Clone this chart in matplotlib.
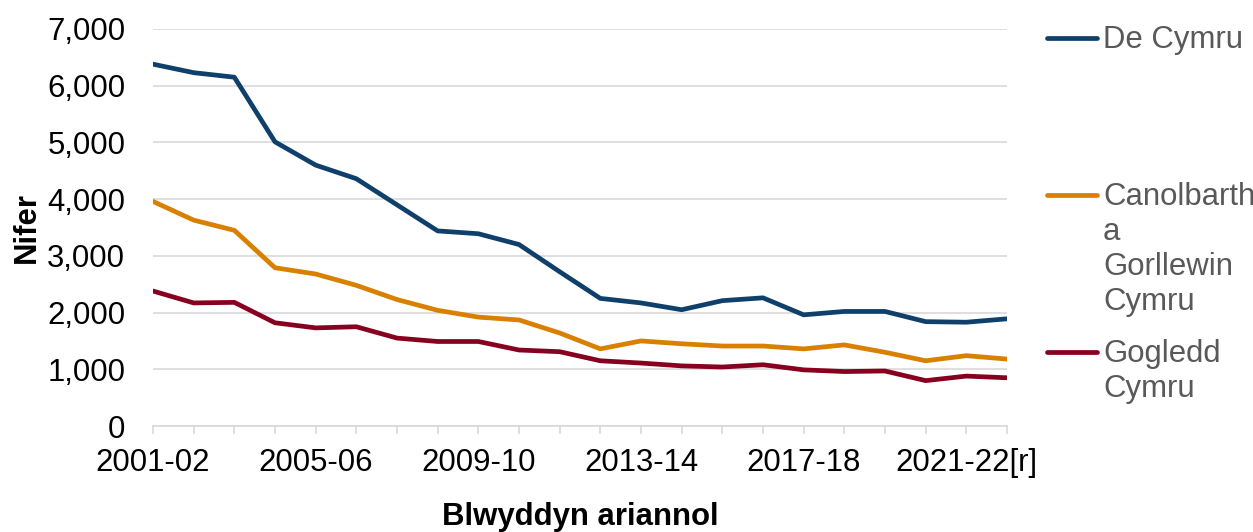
import numpy as np
import matplotlib
matplotlib.use("Agg")
from matplotlib import pyplot as plt
from matplotlib.lines import Line2D

plt.rcParams['font.family'] = ['Liberation Sans', 'DejaVu Sans']

years = ["2001-02", "2002-03", "2003-04", "2004-05", "2005-06", "2006-07",
         "2007-08", "2008-09", "2009-10", "2010-11", "2011-12", "2012-13",
         "2013-14", "2014-15", "2015-16", "2016-17", "2017-18", "2018-19",
         "2019-20", "2020-21", "2021-22[r]", "2022-23"]

de_cymru = [6380, 6230, 6150, 5010, 4600, 4360, 3900, 3440, 3390, 3200, 2720,
            2250, 2170, 2050, 2210, 2260, 1960, 2020, 2020, 1840, 1830, 1890]
canolbarth = [3960, 3630, 3450, 2790, 2680, 2480, 2230, 2040, 1920, 1870, 1640,
              1360, 1500, 1450, 1410, 1410, 1360, 1430, 1300, 1150, 1240, 1180]
gogledd = [2380, 2170, 2180, 1820, 1730, 1750, 1550, 1490, 1490, 1340, 1310,
           1150, 1110, 1060, 1040, 1080, 990, 960, 970, 800, 880, 850]

series = [("De Cymru", de_cymru, "#0f3f6b"),
          ("Canolbarth\na\nGorllewin\nCymru", canolbarth, "#d98000"),
          ("Gogledd\nCymru", gogledd, "#880020")]

fs = 22.4

fig = plt.figure(figsize=(12.53, 5.32), dpi=100)
ax = fig.add_axes([153/1253, 1-426/532, (1007-153)/1253, (426-29)/532])

x = np.arange(len(years))
for name, vals, col in series:
    ax.plot(x, vals, color=col, lw=3.4, solid_capstyle='round', zorder=3)

ax.set_xlim(0, len(years)-1)
ax.set_ylim(0, 7000)
ax.set_yticks(np.arange(0, 7001, 1000))
ax.set_yticklabels([f"{v:,}" for v in range(0, 7001, 1000)])
ax.set_xticks(x)
ax.set_xticklabels([y if i % 4 == 0 else "" for i, y in enumerate(years)])
ax.grid(axis='y', color='#d9d9d9', lw=1.2)
ax.set_axisbelow(True)
for s in ['top', 'right', 'left']:
    ax.spines[s].set_visible(False)
ax.spines['bottom'].set_color('#d9d9d9')
ax.spines['bottom'].set_linewidth(1.2)
ax.tick_params(axis='x', length=6, width=1.2, color='#d9d9d9', labelsize=fs, pad=10)
ax.tick_params(axis='y', length=0, labelsize=fs, pad=20)

ax.set_ylabel("Nifer", fontsize=fs, fontweight='bold', labelpad=4)
ax.set_xlabel("Blwyddyn ariannol", fontsize=fs, fontweight='bold', labelpad=17)

# legend drawn by hand so the handle sits at the first text line
leg_y = [38, 195, 352]
for (name, vals, col), yp in zip(series, leg_y):
    yf = 1 - yp/532
    fig.add_artist(Line2D([1047/1253, 1097/1253], [yf, yf], color=col, lw=3.4,
                          solid_capstyle='round', transform=fig.transFigure))
    fig.text(1103/1253, yf + 13/532, name, fontsize=fs, color='#595959',
             va='top', ha='left', linespacing=1.22)

fig.savefig("out.png", dpi=100)
